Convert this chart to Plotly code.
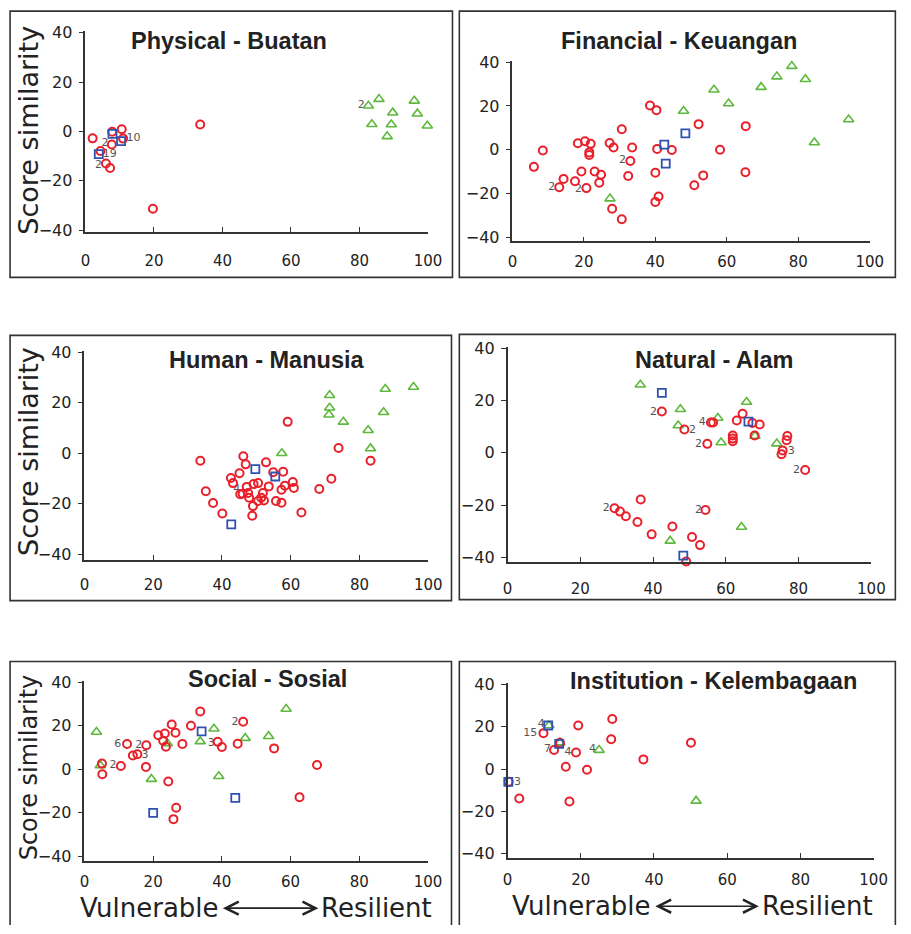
import plotly.graph_objects as go

# page is 911x934; the default 8px body margin surrounds the figure
PAGE_W, PAGE_H, MARGIN = 911, 934, 8
W, H = PAGE_W - 2 * MARGIN, PAGE_H - 2 * MARGIN

# ---------------- data ----------------
# Physical - Buatan
phys_circle_x = [2.1, 7.8, 10.6, 11.0, 7.7, 4.4, 6.0, 7.2, 19.7, 33.5]
phys_circle_y = [-2.8, -0.1, 0.9, -2.9, -5.3, -7.9, -13.0, -14.8, -31.3, 2.8]
phys_square_x = [7.9, 10.4, 3.9]
phys_square_y = [-1.0, -3.9, -9.2]
phys_tri_x = [82.6, 85.7, 83.6, 89.7, 89.3, 88.1, 96.0, 96.9, 99.8]
phys_tri_y = [10.4, 13.1, 2.9, 7.6, 2.8, -2.0, 12.4, 7.2, 2.3]
phys_lbl = ["2", "10", "19", "2", "2"]
phys_lbl_x = [5.7, 14.0, 7.1, 3.8, 80.5]
phys_lbl_y = [-4.6, -2.8, -9.2, -13.5, 10.8]

# Financial - Keuangan
fin_circle_x = [6.0, 8.5, 18.3, 20.3, 21.9, 21.5, 21.5, 19.3, 14.3, 13.1, 17.5, 20.7,
                23.0, 24.8, 24.3, 27.2, 28.3, 30.6, 33.5, 33.0, 32.4, 27.9, 30.6, 38.5,
                40.3, 40.5, 44.6, 40.0, 40.9, 40.0, 52.1, 58.1, 53.4, 50.9, 65.3, 65.2]
fin_circle_y = [-7.8, -0.3, 3.0, 3.9, 2.7, -1.2, -2.4, -9.9, -13.3, -17.1, -14.4, -17.5,
                -9.9, -11.4, -15.0, 3.1, 1.0, 9.4, 1.0, -5.1, -12.0, -26.9, -31.7, 20.2,
                18.1, 0.4, -0.1, -10.5, -21.3, -23.8, 11.7, 0.0, -11.7, -16.2, 10.8, -10.3]
fin_square_x = [42.5, 48.4, 42.9]
fin_square_y = [2.4, 7.5, -6.3]
fin_tri_x = [27.3, 47.9, 56.4, 60.5, 69.6, 74.0, 78.2, 82.0, 84.5, 94.1]
fin_tri_y = [-22.3, 17.7, 27.4, 21.1, 28.6, 33.4, 38.2, 32.2, 3.3, 13.8]
fin_lbl = ["2", "2", "2"]
fin_lbl_x = [11.0, 18.5, 30.8]
fin_lbl_y = [-17.1, -18.1, -4.8]

# Human - Manusia
hum_circle_x = [33.7, 35.3, 37.4, 40.1, 42.6, 43.2, 45.1, 46.2, 46.9, 52.8, 45.3, 47.2,
                47.6, 47.9, 49.2, 50.5, 49.0, 48.8, 50.5, 51.4, 52.2, 51.9, 53.6, 55.7,
                57.3, 57.3, 58.3, 57.8, 54.9, 60.6, 60.9, 63.1, 68.3, 71.8, 73.9, 83.2,
                59.1, 46.0]
hum_circle_y = [-3.0, -15.0, -19.7, -23.8, -9.8, -11.8, -7.9, -1.2, -4.4, -3.6, -16.2, -13.3,
                -15.7, -17.6, -12.2, -11.8, -20.9, -24.7, -18.9, -17.6, -18.7, -15.7, -13.1, -18.9,
                -19.6, -14.4, -12.8, -7.3, -7.5, -11.4, -13.7, -23.4, -14.1, -10.1, 2.1, -3.0,
                12.4, -16.0]
hum_square_x = [49.7, 55.5, 42.7]
hum_square_y = [-6.3, -9.2, -28.1]
hum_tri_x = [57.4, 71.3, 71.3, 71.1, 75.3, 82.5, 83.2, 87.0, 87.5, 95.7]
hum_tri_y = [0.0, 22.9, 18.0, 15.2, 12.4, 9.1, 1.9, 16.2, 25.4, 26.2]
hum_lbl = ["4"]
hum_lbl_x = [44.3]
hum_lbl_y = [-14.4]

# Natural - Alam
nat_circle_x = [42.4, 48.6, 54.9, 55.9, 56.5, 63.0, 64.6, 61.9, 61.9, 61.9, 67.3, 69.3,
                67.9, 76.9, 76.7, 75.6, 75.3, 81.8, 29.4, 30.9, 32.5, 36.6, 35.7, 39.6,
                45.3, 50.7, 52.9, 49.1, 54.4]
nat_circle_y = [15.8, 8.9, 3.4, 11.6, 11.6, 12.3, 14.9, 6.6, 5.4, 4.4, 11.4, 10.8,
                6.6, 6.4, 4.8, 0.9, -0.6, -6.6, -21.2, -22.5, -24.3, -17.9, -26.5, -31.2,
                -28.2, -32.2, -35.3, -41.6, -21.9]
nat_square_x = [42.4, 66.2, 48.3]
nat_square_y = [22.9, 11.9, -39.3]
nat_tri_x = [36.5, 47.5, 46.9, 57.8, 65.7, 58.7, 68.0, 74.0, 64.3, 44.7]
nat_tri_y = [26.0, 16.6, 10.4, 13.3, 19.4, 3.9, 6.4, 3.5, -28.4, -33.7]
nat_lbl = ["2", "4", "2", "2", "3", "2", "2", "2"]
nat_lbl_x = [40.1, 53.5, 50.8, 52.5, 78.0, 79.4, 27.1, 52.5]
nat_lbl_y = [15.4, 11.6, 8.5, 3.3, 0.6, -6.8, -21.2, -21.8]

# Social - Sosial
soc_circle_x = [5.1, 5.2, 10.6, 12.4, 14.1, 15.4, 18.0, 17.9, 21.5, 23.4, 22.9, 23.7,
                24.4, 25.4, 26.5, 28.5, 26.7, 25.9, 31.0, 33.7, 38.8, 40.0, 44.6, 46.2,
                55.2, 62.6, 67.7]
soc_circle_y = [2.6, -2.3, 1.5, 11.6, 6.3, 6.9, 11.0, 1.1, 15.6, 16.4, 13.1, 10.4,
                -5.6, 20.6, 16.8, 11.6, -17.7, -22.9, 20.0, 26.5, 12.6, 10.2, 11.7, 21.8,
                9.6, -12.8, 2.0]
soc_square_x = [20.0, 34.1, 43.9]
soc_square_y = [-20.0, 17.4, -13.1]
soc_tri_x = [3.5, 4.6, 19.5, 24.1, 33.7, 37.7, 39.1, 46.8, 53.6, 58.7]
soc_tri_y = [17.1, 1.8, -4.5, 11.9, 12.8, 18.6, -3.2, 14.3, 15.2, 27.7]
soc_lbl = ["6", "2", "3", "2", "3", "2"]
soc_lbl_x = [9.7, 15.8, 17.6, 8.3, 36.9, 43.8]
soc_lbl_y = [11.6, 11.1, 6.6, 1.8, 11.9, 21.7]

# Institution - Kelembagaan
ins_circle_x = [0.3, 3.2, 9.8, 12.7, 14.3, 15.9, 16.9, 18.7, 19.3, 21.7, 28.3, 28.6, 37.1, 50.1]
ins_circle_y = [-6.0, -13.9, 17.0, 9.0, 12.5, 1.1, -15.3, 7.9, 20.6, -0.3, 14.1, 23.7, 4.6, 12.5]
ins_square_x = [11.1, 14.1, 0.2]
ins_square_y = [20.6, 11.9, -6.0]
ins_tri_x = [11.3, 14.3, 25.0, 51.5]
ins_tri_y = [20.6, 12.5, 9.0, -15.0]
ins_lbl = ["4", "15", "7", "4", "4", "3"]
ins_lbl_x = [9.2, 6.2, 10.9, 16.5, 23.2, 2.7]
ins_lbl_y = [21.2, 16.8, 9.3, 7.9, 9.4, -6.0]

titles = ["Physical - Buatan", "Financial - Keuangan", "Human - Manusia",
          "Natural - Alam", "Social - Sosial", "Institution - Kelembagaan"]
x_ticks = [0, 20, 40, 60, 80, 100]
y_ticks = [-40, -20, 0, 20, 40]
y_title = "Score similarity"
left_label = "Vulnerable"
right_label = "Resilient"

datasets = [
    (phys_circle_x, phys_circle_y, phys_square_x, phys_square_y, phys_tri_x, phys_tri_y, phys_lbl, phys_lbl_x, phys_lbl_y),
    (fin_circle_x, fin_circle_y, fin_square_x, fin_square_y, fin_tri_x, fin_tri_y, fin_lbl, fin_lbl_x, fin_lbl_y),
    (hum_circle_x, hum_circle_y, hum_square_x, hum_square_y, hum_tri_x, hum_tri_y, hum_lbl, hum_lbl_x, hum_lbl_y),
    (nat_circle_x, nat_circle_y, nat_square_x, nat_square_y, nat_tri_x, nat_tri_y, nat_lbl, nat_lbl_x, nat_lbl_y),
    (soc_circle_x, soc_circle_y, soc_square_x, soc_square_y, soc_tri_x, soc_tri_y, soc_lbl, soc_lbl_x, soc_lbl_y),
    (ins_circle_x, ins_circle_y, ins_square_x, ins_square_y, ins_tri_x, ins_tri_y, ins_lbl, ins_lbl_x, ins_lbl_y),
]

# ---------------- geometry (page pixels) ----------------
# x pixel of 0, x pixel of 100, y pixel of +40, y pixel of -40, y range low/high
geom = [
    (82, 432, 25, 226, -40.7, 40.7),
    (518.3, 883.3, 55, 233.3, -41.8, 40.5),
    (81, 432.3, 350, 556, -42.2, 40.5),
    (513.3, 885, 346, 559, -41.7, 40.5),
    (81, 432, 686, 863.3, -42.0, 40.5),
    (513.3, 887.3, 688.3, 860.7, -42.0, 40.5),
]
# panel frames: left, top, right, bottom (None = open at the page bottom)
boxes = [(5, 3, 457, 274), (464, 3, 909.5, 274), (5, 333, 456, 603),
         (464, 332, 909.5, 602), (5, 665, 456, None), (464, 665, 909.5, None)]
title_pos = [(229, 33), (688, 33), (267, 358), (724, 358), (268, 683), (724, 685)]
xlabel_standoff = [14, 6, 10, 12, 7, 7]

RED, BLUE, GREEN = "#e8202a", "#2f52b0", "#5db83c"

fig = go.Figure()
layout = dict(width=W, height=H, autosize=False, showlegend=False,
              margin=dict(l=0, r=0, t=0, b=0),
              plot_bgcolor="white", paper_bgcolor="white")
annotations = []
shapes = []


def fx(px):
    return (px - MARGIN) / W


def fy(py):
    return 1 - (py - MARGIN) / H


for i, (d, g) in enumerate(zip(datasets, geom)):
    n = i + 1
    cx, cy, sx, sy, tx, ty, lt, lx, ly = d
    x0p, x100p, y40p, ym40p, ylo, yhi = g
    yc = (y40p + ym40p) / 2
    k = (ym40p - y40p) / 80.0
    ypix = lambda v: yc - v * k
    xa = "x" if n == 1 else f"x{n}"
    ya = "y" if n == 1 else f"y{n}"
    axis_common = dict(showline=True, linecolor="#333", linewidth=1.5, showgrid=False,
                       zeroline=False, tickcolor="#333", tickwidth=1.2, fixedrange=True)
    layout["xaxis" if n == 1 else f"xaxis{n}"] = dict(
        domain=[fx(x0p), fx(x100p)], range=[0, 100], tickvals=x_ticks,
        tickfont=dict(family="DejaVu Sans", size=15, color="#222"),
        ticks="inside", ticklen=5, anchor=ya, ticklabelstandoff=xlabel_standoff[i], **axis_common)
    layout["yaxis" if n == 1 else f"yaxis{n}"] = dict(
        domain=[fy(ypix(ylo)), fy(ypix(yhi))], range=[ylo, yhi], tickvals=y_ticks,
        tickfont=dict(family="DejaVu Sans", size=16, color="#222"),
        ticks="outside", ticklen=5, anchor=xa, ticklabelstandoff=3, **axis_common)

    fig.add_trace(go.Scatter(x=lx, y=ly, text=lt, mode="text", xaxis=xa, yaxis=ya,
                             textfont=dict(family="DejaVu Sans", size=11, color="#555"),
                             hoverinfo="skip", cliponaxis=False))
    fig.add_trace(go.Scatter(x=tx, y=ty, mode="markers", xaxis=xa, yaxis=ya, cliponaxis=False,
                             marker=dict(symbol="triangle-up-open", size=9, color=GREEN,
                                         line=dict(width=1.6, color=GREEN))))
    fig.add_trace(go.Scatter(x=cx, y=cy, mode="markers", xaxis=xa, yaxis=ya, cliponaxis=False,
                             marker=dict(symbol="circle-open", size=8, color=RED,
                                         line=dict(width=2, color=RED))))
    fig.add_trace(go.Scatter(x=sx, y=sy, mode="markers", xaxis=xa, yaxis=ya, cliponaxis=False,
                             marker=dict(symbol="square-open", size=8, color=BLUE,
                                         line=dict(width=1.8, color=BLUE))))

    bx0, by0, bx1, by1 = boxes[i]
    if by1 is not None:
        shapes.append(dict(type="rect", xref="paper", yref="paper", x0=fx(bx0), x1=fx(bx1),
                           y0=fy(by1), y1=fy(by0), line=dict(color="#333", width=1.6),
                           fillcolor="rgba(0,0,0,0)", layer="above"))
    else:
        yb = fy(PAGE_H - 1)
        path = (f"M{fx(bx0)},{yb} L{fx(bx0)},{fy(by0)} L{fx(bx1)},{fy(by0)} L{fx(bx1)},{yb}")
        shapes.append(dict(type="path", xref="paper", yref="paper", path=path,
                           line=dict(color="#333", width=1.6), layer="above"))
    tpx, tpy = title_pos[i]
    annotations.append(dict(text=titles[i], xref="paper", yref="paper", x=fx(tpx), y=fy(tpy),
                            xanchor="center", yanchor="middle", showarrow=False,
                            font=dict(family="Liberation Sans", size=23.5, color="#222", weight="bold")))

# y-axis titles (left column)
for (px, py, fs) in [(24, 124, 27), (24, 451, 27), (24, 773, 24)]:
    annotations.append(dict(text=y_title, xref="paper", yref="paper", x=fx(px), y=fy(py),
                            xanchor="center", yanchor="middle", showarrow=False, textangle=-90,
                            font=dict(family="DejaVu Sans", size=fs, color="#222")))

# bottom "Vulnerable <--> Resilient" labels
for (vr, a0, a1, rl, py) in [(220, 223, 320, 322, 916), (661, 665, 770, 772, 914)]:
    annotations.append(dict(text=left_label, xref="paper", yref="paper", x=fx(vr), y=fy(py),
                            xanchor="right", yanchor="middle", showarrow=False, borderpad=0,
                            font=dict(family="DejaVu Sans", size=26, color="#222")))
    annotations.append(dict(text=right_label, xref="paper", yref="paper", x=fx(rl), y=fy(py),
                            xanchor="left", yanchor="middle", showarrow=False, borderpad=0,
                            font=dict(family="DejaVu Sans", size=26, color="#222")))
    annotations.append(dict(text=" ", xref="paper", yref="paper", x=fx(a1), y=fy(py),
                            ax=-(a1 - a0), ay=0, showarrow=True, arrowside="end+start",
                            arrowhead=5, startarrowhead=5, arrowsize=1.6, startarrowsize=1.6,
                            arrowwidth=1.6, arrowcolor="#222", standoff=0, startstandoff=0,
                            font=dict(size=1)))

layout["annotations"] = annotations
layout["shapes"] = shapes
fig.update_layout(**layout)
fig.write_html("out.html", config={"displayModeBar": False})
